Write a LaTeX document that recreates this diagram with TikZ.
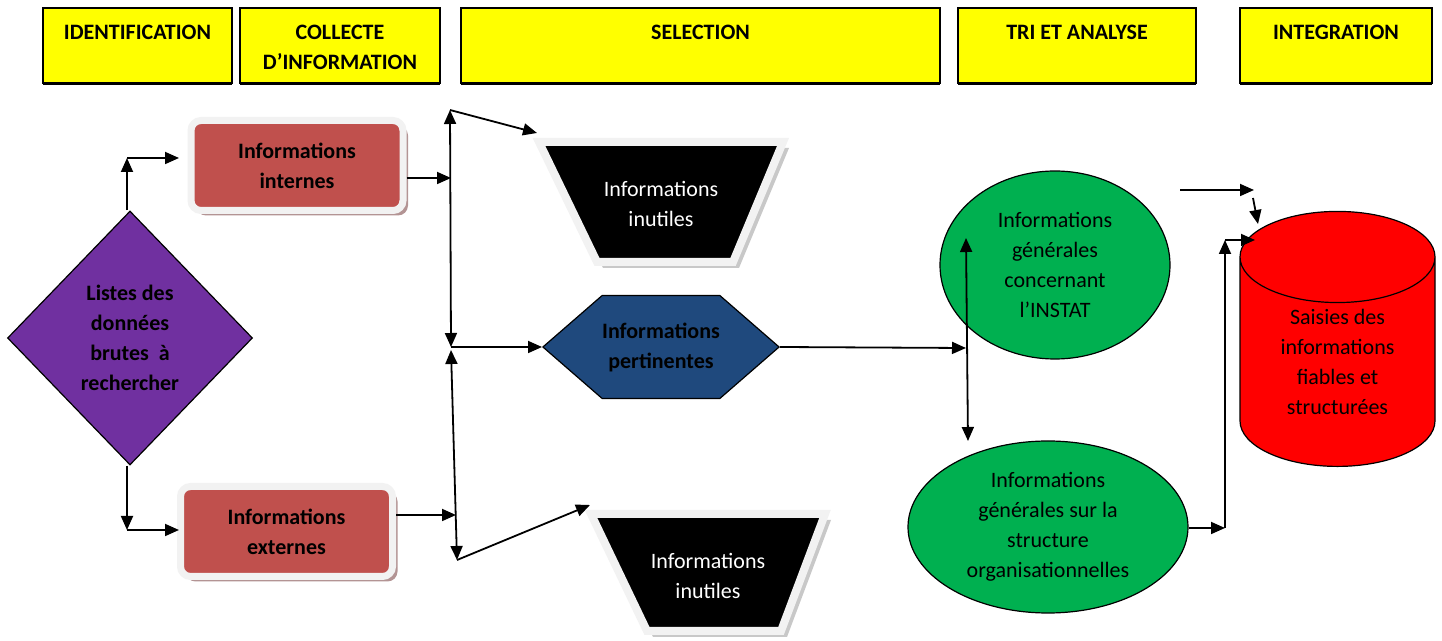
\documentclass[tikz,border=0pt]{standalone}
\usepackage{fontspec}
\setmainfont{Carlito}
\usetikzlibrary{arrows.meta,shapes.geometric,shapes.symbols,shadows}
\definecolor{cyel}{HTML}{FFFF00}
\definecolor{cbox}{HTML}{C0504D}
\definecolor{cframe}{HTML}{F2F2F2}
\definecolor{cshad}{HTML}{B39494}
\definecolor{cgrey}{HTML}{C8C8C8}
\definecolor{cpurple}{HTML}{7030A0}
\definecolor{cblue}{HTML}{1F497D}
\definecolor{cgreen}{HTML}{00B050}
\definecolor{cred}{HTML}{FF0000}
\newcommand{\txt}{\fontsize{11}{15}\selectfont}

\begin{document}
\begin{tikzpicture}[
  x=0.5pt, y=-0.5pt,
  font=\txt,
  hdr/.style={draw=black, line width=0.8pt, fill=cyel, minimum height=37.5pt, inner sep=0pt,
              drop shadow={shadow xshift=0pt, shadow yshift=-1pt, fill=black, opacity=1}},
  hlbl/.style={font=\txt\bfseries, align=center, inner sep=0pt},
  src/.style={rounded corners=5pt, fill=cbox, draw=cframe, line width=3.5pt, align=center,
              minimum width=106pt, minimum height=45pt, font=\txt\bfseries,
              drop shadow={shadow xshift=2.5pt, shadow yshift=-2.5pt, fill=cshad, opacity=1}},
  wastebox/.style={fill=black, draw=cframe, line width=4pt, line join=miter},
  wasteshad/.style={fill=cgrey},
  wastetxt/.style={text=white, align=center, inner sep=0pt},
  gen/.style={ellipse, fill=cgreen, draw=black, line width=0.6pt, align=center, inner sep=0pt},
  arr/.style={-{Triangle[length=7pt,width=6pt]}, line width=0.9pt},
  both/.style={{Triangle[length=7pt,width=6pt]}-{Triangle[length=7pt,width=6pt]}, line width=0.9pt},
]
\useasboundingbox (0,0) rectangle (1442,641);

% ------------------------------------------------------------ phases
\node[hdr, minimum width=94.5pt] (hid) at (137.5,45.5) {};
\node[hlbl] (tid) at (137.5,32) {IDENTIFICATION};
\node[hdr, minimum width=100pt] (hcol) at (340,45.5) {};
\node[hlbl] (tcol) at (340,47) {COLLECTE\\D’INFORMATION};
\node[hdr, minimum width=239.5pt] (hsel) at (700.5,45.5) {};
\node[hlbl] (tsel) at (700.5,32) {SELECTION};
\node[hdr, minimum width=119pt] (htri) at (1077,45.5) {};
\node[hlbl] (ttri) at (1077,32) {TRI ET ANALYSE};
\node[hdr, minimum width=96pt] (hint) at (1336,45.5) {};
\node[hlbl] (tint) at (1336,32) {INTEGRATION};

% ------------------------------------------------------------ identification, collecte
\node[diamond, fill=cpurple, draw=black, line width=0.6pt, minimum width=122.5pt, minimum height=127pt,
      inner sep=0pt, align=center, font=\txt\bfseries] (liste) at (130,338) {Listes des\\données\\brutes~ à\\rechercher};
\node[src] (int) at (297,165.5) {Informations\\internes};
\node[src] (ext) at (286.5,531.5) {Informations\\externes};

\coordinate (kup) at (127,158);
\coordinate (kupe) at (179,158);
\coordinate (kdn) at (127,530);
\coordinate (kdne) at (179,530);
\draw[arr] (kup |- liste.north) -- (kup);
\draw[arr] (kup) -- (kupe);
\draw[arr] (kdn |- liste.south) -- (kdn);
\draw[arr] (kdn) -- (kdne);

% ------------------------------------------------------------ selection
% the two funnels
\fill[wasteshad, shift={(6,6)}] (539,142) -- (783,142) -- (733,262) -- (597,262) -- cycle;
\draw[wastebox] (539,142) -- (783,142) -- (733,262) -- (597,262) -- cycle;
\node[wastetxt] (inu1) at (661,204) {Informations\\inutiles};
\fill[wasteshad, shift={(6,6)}] (591,514) -- (825,514) -- (781,631) -- (647,631) -- cycle;
\draw[wastebox] (591,514) -- (825,514) -- (781,631) -- (647,631) -- cycle;
\node[wastetxt] (inu2) at (708,576) {Informations\\inutiles};

\node[signal, signal to=west and east, signal pointer angle=82, fill=cblue, draw=black, line width=0.6pt,
      minimum width=115pt, minimum height=51.5pt, inner sep=0pt, align=center, font=\txt\bfseries] (keep) at (661,347) {Informations\\pertinentes};

\coordinate (jtop) at (450,110);
\coordinate (jmid) at (451,347);
\coordinate (jmid2) at (451,350);
\coordinate (jbot) at (457,560);
\coordinate (kint) at (451,178);
\coordinate (kext) at (456,515);
\coordinate (kw1) at (537,133);
\coordinate (kw2) at (590,505);
\draw[arr] (int.east |- kint) -- (kint);
\draw[arr] (ext.east |- kext) -- (kext);
\draw[both] (jtop) -- (jmid);
\draw[both] (jmid2) -- (jbot);
\draw[arr] (jtop) -- (kw1);
\draw[arr] (jmid) -- (keep.west);
\draw[arr] (jbot) -- (kw2);

% ------------------------------------------------------------ tri et analyse
\node[gen, minimum width=115pt, minimum height=94pt] (instat) at (1055,265) {Informations\\générales\\concernant\\l’INSTAT};
\node[gen, minimum width=140pt, minimum height=86pt] (org) at (1048,527) {Informations\\générales sur la\\structure\\organisationnelles};

\coordinate (kgen) at (966,348);
\coordinate (gtop) at (966,238);
\coordinate (gbot) at (968,441);
\draw[arr] (keep.east) -- (kgen);
\draw[both] (gtop) -- (gbot);

% ------------------------------------------------------------ integration
\node[cylinder, shape border rotate=90, aspect=0.8, fill=cred, draw=black, line width=0.6pt,
      minimum width=97.5pt, minimum height=127.5pt, inner sep=0pt, align=center] (db) at (1337.5,362) {Saisies des\\informations\\fiables et\\structurées};

\coordinate (kc1) at (1180,190);
\coordinate (kc2) at (1254,190);
\coordinate (kc3) at (1253,198);
\coordinate (kc4) at (1258,224);
\coordinate (kel) at (1225,528);
\coordinate (kelt) at (1225,240);
\coordinate (kelr) at (1255,240);
\draw[arr] (kc1) -- (kc2);
\draw[arr] (kc3) -- (kc4);
\draw[arr] (org.east |- kel) -- (kel);
\draw[arr] (kel) -- (kelt);
\draw[arr] (kelt) -- (kelr);

\end{tikzpicture}
\end{document}
